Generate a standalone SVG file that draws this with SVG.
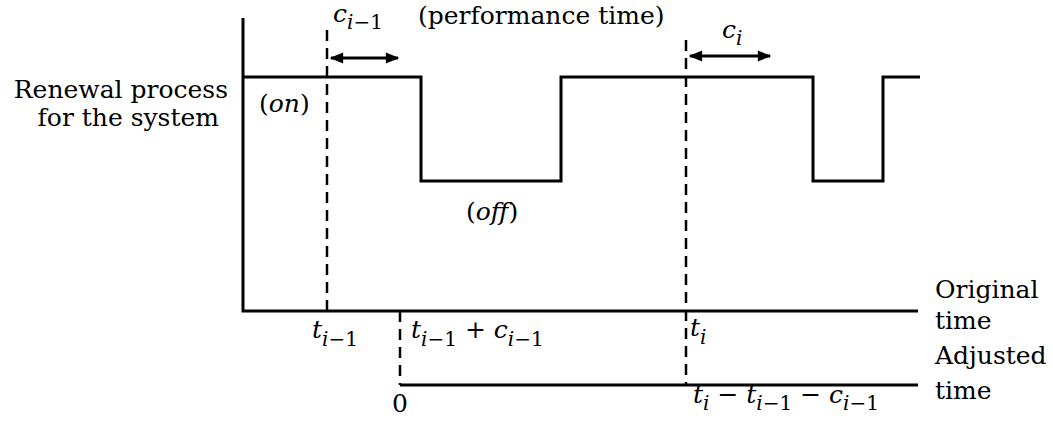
<svg xmlns="http://www.w3.org/2000/svg" width="1053" height="421" viewBox="0 0 1053 421">
<style>
.ln{stroke:#000;stroke-width:3;fill:none;stroke-linejoin:miter}
.ds{stroke:#000;stroke-width:2.5;fill:none;stroke-dasharray:11,7}
.ar{stroke:#000;stroke-width:3;fill:none}
text{font-family:'DejaVu Serif',serif;font-size:25px;fill:#000}
.it{font-style:italic}
.sub{font-size:20px}
</style>
<defs>
<marker id="ah" viewBox="0 0 10 10" refX="9" refY="5" markerWidth="5" markerHeight="4.5" orient="auto-start-reverse" markerUnits="strokeWidth">
<path d="M0,1 L10,5 L0,9 Z" fill="#000"/>
</marker>
</defs>
<g id="axes">
<path class="ln" d="M243,18 V311 H918"/>
<path class="ln" d="M400,385 H918"/>
</g>
<g id="signal">
<path class="ln" d="M243,77 H421 V181 H561 V77 H813 V181 H883 V77 H920"/>
</g>
<g id="connectors">
<path class="ds" d="M327,30 V311"/>
<path class="ds" d="M400,311 V385"/>
<path class="ds" d="M686,40 V385"/>
<path class="ar" d="M331,58 H398" marker-start="url(#ah)" marker-end="url(#ah)"/>
<path class="ar" d="M690,56 H770" marker-start="url(#ah)" marker-end="url(#ah)"/>
</g>
<g id="labels" font-family="DejaVu Serif, serif">
<text x="228" y="98" text-anchor="end">Renewal process</text>
<text x="219" y="126" text-anchor="end">for the system</text>
<text x="259" y="112">(<tspan class="it">on</tspan>)</text>
<text x="466" y="220">(<tspan class="it">off</tspan>)</text>
<text x="418" y="24">(performance time)</text>
<text x="333" y="22" class="it">c<tspan class="sub" dy="7">i</tspan><tspan class="sub" font-style="normal">−1</tspan></text>
<text x="722" y="38" class="it">c<tspan class="sub" dy="7">i</tspan></text>
<text x="312" y="338" class="it">t<tspan class="sub" dy="8">i</tspan><tspan class="sub" font-style="normal">−1</tspan></text>
<text x="411" y="338" class="it">t<tspan class="sub" dy="8">i</tspan><tspan class="sub" font-style="normal">−1</tspan><tspan dy="-8" font-style="normal"> + </tspan>c<tspan class="sub" dy="8">i</tspan><tspan class="sub" font-style="normal">−1</tspan></text>
<text x="690" y="336" class="it">t<tspan class="sub" dy="8">i</tspan></text>
<text x="392" y="412">0</text>
<text x="693" y="403" class="it">t<tspan class="sub" dy="7">i</tspan><tspan dy="-7" font-style="normal">  −  </tspan>t<tspan class="sub" dy="7">i</tspan><tspan class="sub" font-style="normal">−1</tspan><tspan dy="-7" font-style="normal">  −  </tspan>c<tspan class="sub" dy="7">i</tspan><tspan class="sub" font-style="normal">−1</tspan></text>
<text x="935" y="298">Original</text>
<text x="935" y="329">time</text>
<text x="935" y="364">Adjusted</text>
<text x="935" y="399">time</text>
</g>
</svg>
